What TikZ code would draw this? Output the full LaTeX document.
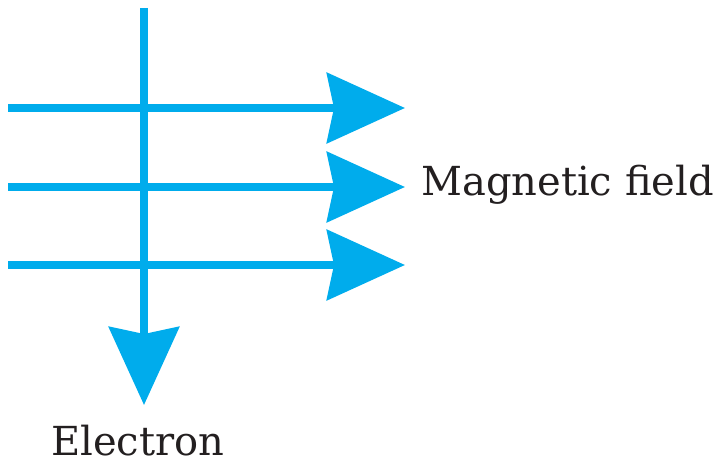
\documentclass[tikz,border=0pt]{standalone}
\usepackage{fontspec}
\setmainfont{DejaVu Serif}
\usetikzlibrary{arrows.meta}
\definecolor{fieldblue}{RGB}{0,172,236}
\definecolor{inkgray}{RGB}{35,31,32}
\begin{document}
\begin{tikzpicture}[x=1pt,y=-1pt,
  vec/.style={draw=fieldblue, fill=fieldblue, line width=8pt,
    -{Stealth[length=78pt,width=70pt,inset=7pt]}},
  lbl/.style={font=\fontsize{40}{46}\selectfont, text=inkgray, inner sep=0pt}]
\useasboundingbox (0,0) rectangle (714,465);
\coordinate (etop) at (144,8);
\coordinate (ebot) at (144,405);
\coordinate (f1s) at (8,108);
\coordinate (f1e) at (405,108);
\coordinate (f2s) at (8,187);
\coordinate (f2e) at (405,187);
\coordinate (f3s) at (8,265);
\coordinate (f3e) at (405,265);
\draw[vec] (etop) -- (ebot);
\draw[vec] (f1s) -- (f1e);
\draw[vec] (f2s) -- (f2e);
\draw[vec] (f3s) -- (f3e);
\node[lbl, anchor=base west] (mf) at (421,196) {Magnetic field};
\node[lbl, anchor=base west] (el) at (51,455) {Electron};
\end{tikzpicture}
\end{document}
